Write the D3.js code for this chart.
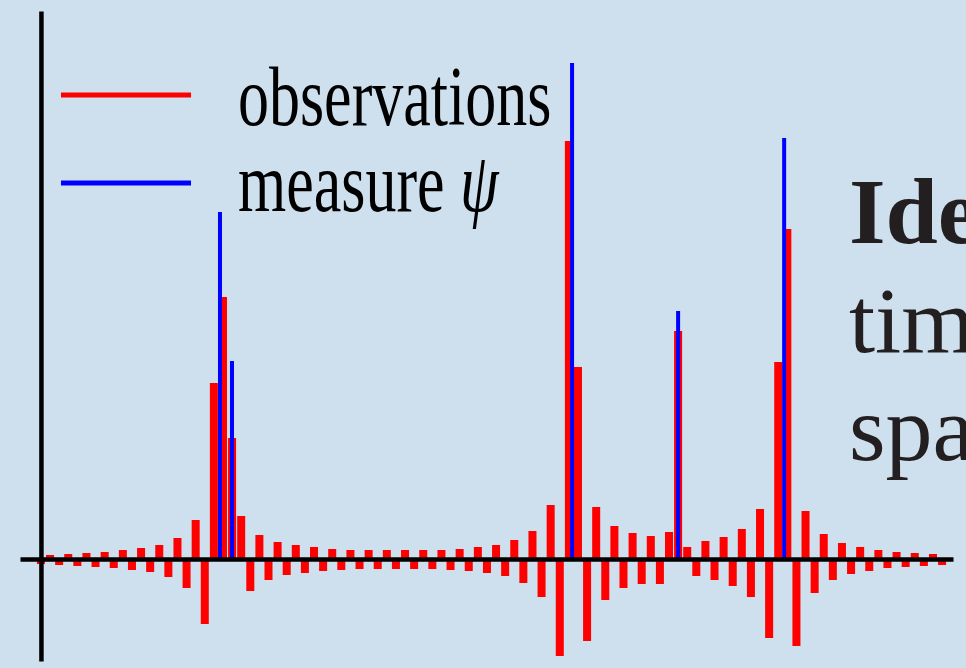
<!DOCTYPE html>
<html lang="en">
<head>
    <meta charset="utf-8">
    <script type="text/javascript" src="https://d3js.org/d3.v7.min.js"></script>
    <title>Observations and measure psi</title>
    <style>
        html, body {
            margin: 0;
            padding: 0;
            background: #cedfee;
        }
        svg { display: block; }
    </style>
</head>
<body>
    <div class="div_d3"></div>

    <script type="text/javascript">

        // Sample positions of the observations (t = i / 100)
        const sampleIndex = d3.range(100);

        // Observed values (red bars), one per sample
        const observations = [
            -0.05, 0.04, -0.06, 0.05, -0.07, 0.06, -0.08, 0.07, -0.09, 0.09,
            -0.11, 0.11, -0.13, 0.14, -0.18, 0.21, -0.29, 0.39, -0.65, 1.76,
             2.62, 1.21, 0.43, -0.32, 0.24, -0.21, 0.17, -0.16, 0.14, -0.14,
             0.12, -0.12, 0.10, -0.11, 0.09, -0.10, 0.09, -0.10, 0.09, -0.10,
             0.09, -0.10, 0.09, -0.10, 0.09, -0.11, 0.10, -0.12, 0.12, -0.14,
             0.14, -0.17, 0.19, -0.24, 0.28, -0.38, 0.54, -0.97, 4.18, 1.92,
            -0.82, 0.52, -0.41, 0.33, -0.29, 0.26, -0.25, 0.23, -0.25, 0.27,
             2.28, 0.12, -0.17, 0.18, -0.21, 0.22, -0.27, 0.30, -0.38, 0.50,
            -0.79, 1.97, 3.30, -0.87, 0.48, -0.34, 0.25, -0.21, 0.16, -0.15,
             0.12, -0.12, 0.09, -0.09, 0.07, -0.08, 0.06, -0.07, 0.05, -0.06
        ];

        // Spikes of the measure psi (blue)
        const spikePositions = [0.1967, 0.2099, 0.5835, 0.7000, 0.8165];
        const spikeWeights   = [3.47, 1.98, 4.96, 2.48, 4.21];

        // Legend and slide text
        const legendLabels = ["observations", "measure "];
        const slideLines = ["Ide", "tim", "spa"];

        const serif = "'Liberation Serif', 'Times New Roman', Times, serif";
        const W = 966, H = 668;

        const svg = d3.select(".div_d3")
            .append("svg")
                .attr("width", W)
                .attr("height", H);

        svg.append("rect")
            .attr("width", W)
            .attr("height", H)
            .attr("fill", "#cedfee");

        // Scales
        const x = d3.scaleLinear()
            .domain([-0.023, 1.002])
            .range([20, 953]);

        const y = d3.scaleLinear()
            .domain([-1.02, 5.48])
            .range([661, 11]);

        const step = x(0.01) - x(0);
        const barW = step * 0.88;

        // Red observation bars
        svg.append("g")
            .selectAll("rect")
            .data(sampleIndex)
            .join("rect")
                .attr("x", i => x(i / 100) - barW / 2)
                .attr("y", i => y(Math.max(0, observations[i])))
                .attr("width", barW)
                .attr("height", i => Math.abs(y(observations[i]) - y(0)))
                .attr("fill", "#ff0000");

        // Blue spikes
        svg.append("g")
            .selectAll("rect")
            .data(spikePositions)
            .join("rect")
                .attr("x", (d) => x(d) - 2)
                .attr("y", (d, i) => y(spikeWeights[i]))
                .attr("width", 4)
                .attr("height", (d, i) => y(0) - y(spikeWeights[i]))
                .attr("fill", "#0000ff");

        // Axes (no ticks, just the thick lines)
        svg.append("g")
            .attr("transform", `translate(0, ${y(0)})`)
            .call(d3.axisBottom(x).tickValues([]).tickSizeOuter(0));
        svg.append("g")
            .attr("transform", `translate(${x(0)}, 0)`)
            .call(d3.axisLeft(y).tickValues([]).tickSizeOuter(0));
        svg.selectAll(".domain")
            .attr("stroke", "#000")
            .attr("stroke-width", 4.5);

        // Legend
        const legendColors = ["#ff0000", "#0000ff"];
        const legendY = [95, 183];
        const baseY = [125, 211];

        legendLabels.forEach((label, k) => {
            svg.append("line")
                .attr("x1", 61).attr("x2", 191)
                .attr("y1", legendY[k]).attr("y2", legendY[k])
                .attr("stroke", legendColors[k])
                .attr("stroke-width", 5);

            const t = svg.append("text")
                .attr("font-family", serif)
                .attr("transform", `translate(238, ${baseY[k]}) scale(1, 1.36)`)
                .attr("font-size", 62)
                .attr("fill", "#000")
                .text(label);
            if (k === 1) {
                t.append("tspan").attr("font-style", "italic").text("ψ");
            }
        });

        // Slide text cut at the right edge (as in the original slide)
        const slideBase = [243, 352, 460];
        slideLines.forEach((s, k) => {
            svg.append("text")
                .attr("font-family", serif)
                .attr("x", 849)
                .attr("y", slideBase[k])
                .attr("font-size", 94)
                .attr("font-weight", k === 0 ? "bold" : "normal")
                .attr("fill", "#231f20")
                .text(s);
        });

    </script>
</body>
</html>
